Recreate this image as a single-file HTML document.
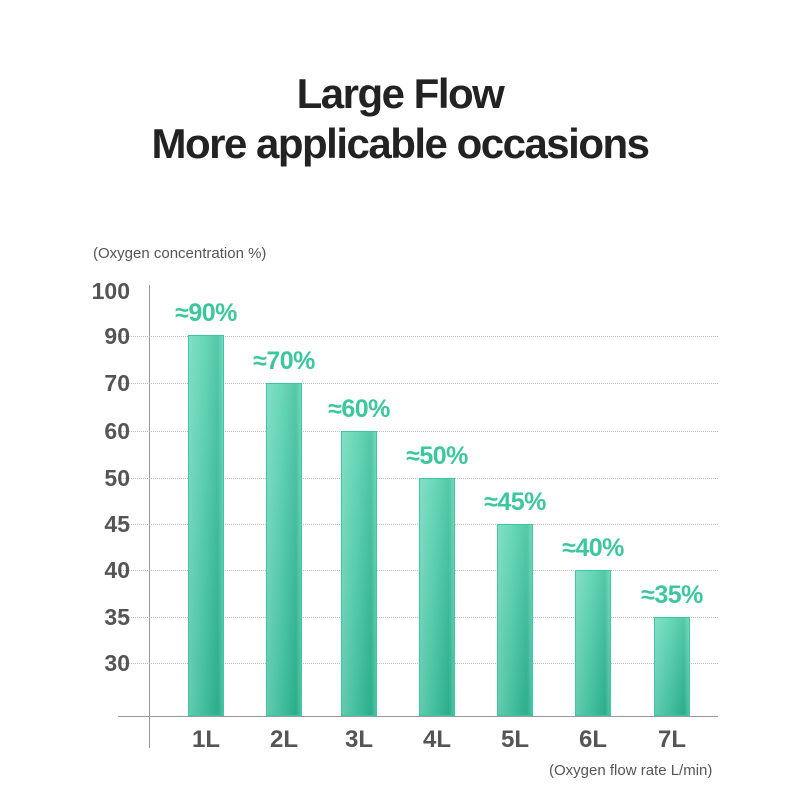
<!DOCTYPE html>
<html><head><style>
body{margin:0;width:800px;height:800px;background:#fff;font-family:"Liberation Sans",sans-serif;position:relative;overflow:hidden}
.t{position:absolute;left:0;width:800px;text-align:center;font-weight:bold;font-size:42px;color:#222;letter-spacing:-1.5px}
.yl{position:absolute;width:60px;right:670px;text-align:right;font-size:23px;font-weight:bold;color:#555}
.g{position:absolute;left:118px;width:600px;border-top:1px dotted #bbb}
.bar{position:absolute;width:34px;bottom:84px;border:1px solid #3cc8a4;background:linear-gradient(90deg,rgba(255,255,255,0.25) 0%,rgba(255,255,255,0.1) 40%,rgba(0,0,0,0.06) 85%,rgba(255,255,255,0.15) 100%),linear-gradient(180deg,#5ad4b2 0%,#2fb893 100%)}
.v{position:absolute;width:100px;text-align:center;font-size:25px;font-weight:bold;color:#3cc79f;letter-spacing:-0.5px}
.xl{position:absolute;width:60px;text-align:center;top:726px;font-size:24px;font-weight:bold;color:#555}
</style></head><body>
<div class="t" style="top:70px">Large Flow</div>
<div class="t" style="top:120px">More applicable occasions</div>
<div style="position:absolute;left:93px;top:245px;font-size:15px;color:#555">(Oxygen concentration %)</div>
<div style="position:absolute;left:549px;top:762px;font-size:15px;color:#555">(Oxygen flow rate L/min)</div>
<div style="position:absolute;left:149px;top:285px;height:463px;border-left:1px solid #999"></div>
<div style="position:absolute;left:118px;top:716px;width:600px;border-top:1px solid #999"></div>
<div class="yl" style="top:278px">100</div>
<div class="g" style="top:336px"></div><div class="yl" style="top:323px">90</div>
<div class="g" style="top:383px"></div><div class="yl" style="top:370px">70</div>
<div class="g" style="top:431px"></div><div class="yl" style="top:418px">60</div>
<div class="g" style="top:478px"></div><div class="yl" style="top:465px">50</div>
<div class="g" style="top:524px"></div><div class="yl" style="top:511px">45</div>
<div class="g" style="top:570px"></div><div class="yl" style="top:557px">40</div>
<div class="g" style="top:617px"></div><div class="yl" style="top:604px">35</div>
<div class="g" style="top:663px"></div><div class="yl" style="top:650px">30</div>

<div class="bar" style="left:188px;top:335px"></div><div class="v" style="left:156px;top:299px">≈90%</div><div class="xl" style="left:176px">1L</div>
<div class="bar" style="left:266px;top:383px"></div><div class="v" style="left:234px;top:347px">≈70%</div><div class="xl" style="left:254px">2L</div>
<div class="bar" style="left:341px;top:431px"></div><div class="v" style="left:309px;top:395px">≈60%</div><div class="xl" style="left:329px">3L</div>
<div class="bar" style="left:419px;top:478px"></div><div class="v" style="left:387px;top:442px">≈50%</div><div class="xl" style="left:407px">4L</div>
<div class="bar" style="left:497px;top:524px"></div><div class="v" style="left:465px;top:488px">≈45%</div><div class="xl" style="left:485px">5L</div>
<div class="bar" style="left:575px;top:570px"></div><div class="v" style="left:543px;top:534px">≈40%</div><div class="xl" style="left:563px">6L</div>
<div class="bar" style="left:654px;top:617px"></div><div class="v" style="left:622px;top:581px">≈35%</div><div class="xl" style="left:642px">7L</div>
</body></html>
